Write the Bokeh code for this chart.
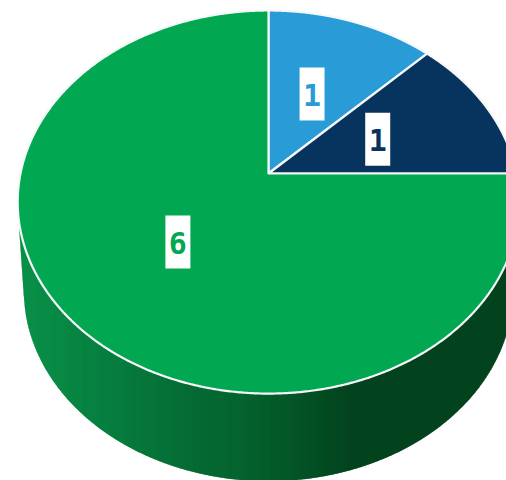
import numpy as np
from bokeh.plotting import figure
from bokeh.core.properties import value
from bokeh.embed import file_html
from bokeh.resources import INLINE

# data (clockwise from 12 o'clock)
categories = ["A", "B", "C"]
values = [1, 1, 6]
labels = ["1", "1", "6"]
colors = ["#299bd7", "#07345f", "#02a752"]

# perspective view of the disc
CX = 268.0
TOP_APEX_Y, TOP_A, TOP_B = 173.0, 248.0, 187.3
BOT_APEX_Y, BOT_A, BOT_B = 261.0, 242.0, 187.0
K = 0.149
LABEL_R = 0.49


def project(u, v, apex_y, a, b):
    w = 1 + K * v
    return CX + a * u / w, apex_y - b * v / w


def disc(apex_y, a, b, n=1440):
    t = np.linspace(0, 2 * np.pi, n)
    return project(np.cos(t), np.sin(t), apex_y, a, b)


def lower_envelope(x, y):
    # lower edge on screen (largest y) of the convex hull of the points
    order = np.lexsort((y, x))
    hull = []
    for px, py in zip(x[order], y[order]):
        while len(hull) >= 2:
            (x1, y1), (x2, y2) = hull[-2], hull[-1]
            if (x2 - x1) * (py - y1) - (y2 - y1) * (px - x1) >= 0:
                hull.pop()
            else:
                break
        hull.append((px, py))
    h = np.array(hull)
    return h[:, 0], h[:, 1]


p = figure(width=506, height=480, x_range=(0, 506), y_range=(480, 0),
           output_backend="svg", toolbar_location=None, min_border=0)
p.axis.visible = False
p.grid.visible = False
p.outline_line_color = None
p.background_fill_color = "white"
p.border_fill_color = "white"

# side wall, shaded from left to right
tx, ty = disc(TOP_APEX_Y, TOP_A, TOP_B)
bx, by = disc(BOT_APEX_Y, BOT_A, BOT_B)
ex, ey = lower_envelope(np.r_[tx, bx], np.r_[ty, by])
stop_x = [17, 100, 180, 250, 350, 520]
stop_rgb = np.array([[10, 146, 73], [7, 128, 64], [6, 110, 54],
                     [5, 98, 46], [3, 68, 31], [4, 69, 31]], float)
edges = np.arange(ex.min(), 520, 1.0)
xs, ys, cs = [], [], []
for x0 in edges:
    x1 = x0 + 1.6
    y0, y1 = np.interp([x0, min(x1, ex.max())], ex, ey)
    xs.append([x0, x1, x1, x0])
    ys.append([201.0, 201.0, y1, y0])
    r, g, b = [int(np.interp(x0, stop_x, stop_rgb[:, i])) for i in range(3)]
    cs.append(f"#{r:02x}{g:02x}{b:02x}")
p.patches(xs, ys, fill_color=cs, line_color=None)

# top surface
fracs = np.array(values, float) / sum(values)
ends = np.cumsum(fracs)
starts = ends - fracs
for s, e, c in zip(starts, ends, colors):
    t = np.pi / 2 - 2 * np.pi * np.linspace(s, e, 720)
    ax, ay = project(np.cos(t), np.sin(t), TOP_APEX_Y, TOP_A, TOP_B)
    p.patch(np.r_[CX, ax], np.r_[TOP_APEX_Y, ay], fill_color=c,
            line_color="#f6f8f8", line_width=2.2, line_join="round")

# labels on white boxes
mid = np.pi / 2 - 2 * np.pi * (starts + ends) / 2
lx, ly = project(LABEL_R * np.cos(mid), LABEL_R * np.sin(mid),
                 TOP_APEX_Y, TOP_A, TOP_B)
p.rect(lx, ly, width=25, height=53, fill_color="white", line_color=None)
p.text(lx, ly + 1, text=labels, text_color=colors,
       text_font=value("DejaVu Sans Mono"), text_font_style="bold",
       text_font_size="30px", text_align="center", text_baseline="middle")

open("out.html", "w").write(file_html(p, INLINE))
